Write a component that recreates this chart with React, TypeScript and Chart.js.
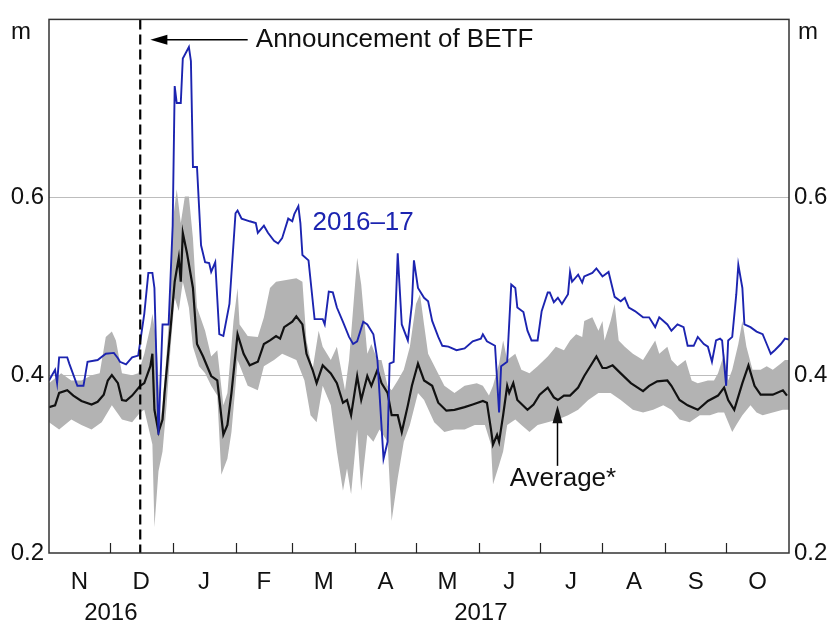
import React, { useEffect, useRef } from "react";
import { Chart, registerables } from "chart.js";

Chart.register(...registerables);

// ---- Data (x = days since 1 Nov 2016, y = millions) ----
const monthLabels = ["N", "D", "J", "F", "M", "A", "M", "J", "J", "A", "S", "O"];
const monthStarts = [0, 30, 61, 92, 120, 151, 181, 212, 242, 273, 304, 334, 365];
const yearLabels = ["2016", "2017"];
const yearSpans = [[0, 61], [61, 365]];
const yTicks = [0.2, 0.4, 0.6, 0.8];
const unitLabel = "m";
const betfDay = 45;

const series2016_17: [number, number][] = [
  [0, 0.394], [3, 0.406], [4, 0.391], [5, 0.42], [9, 0.42], [10, 0.413], [14, 0.388], [17, 0.388],
  [19, 0.415], [24, 0.417], [28, 0.424], [32, 0.425], [34, 0.419], [35, 0.415], [38, 0.412], [41, 0.42],
  [44, 0.422], [47, 0.469], [49, 0.515], [51, 0.515], [52, 0.498], [54, 0.333], [56, 0.457], [59, 0.457],
  [61, 0.568], [62, 0.725], [63, 0.706], [65, 0.706], [66, 0.756], [69, 0.769], [70, 0.753], [71, 0.634],
  [73, 0.634], [75, 0.546], [77, 0.527], [79, 0.526], [80, 0.516], [82, 0.527], [84, 0.446], [86, 0.444],
  [89, 0.48], [92, 0.582], [93, 0.585], [95, 0.576], [99, 0.573], [102, 0.571], [103, 0.56], [106, 0.568],
  [108, 0.56], [111, 0.551], [113, 0.548], [115, 0.554], [118, 0.576], [120, 0.573], [121, 0.581], [123, 0.59],
  [124, 0.571], [125, 0.535], [128, 0.529], [131, 0.463], [135, 0.463], [136, 0.457], [138, 0.494], [140, 0.493],
  [142, 0.476], [145, 0.46], [148, 0.443], [150, 0.435], [152, 0.438], [155, 0.46], [157, 0.457], [160, 0.446],
  [162, 0.417], [163, 0.38], [165, 0.306], [167, 0.325], [168, 0.413], [170, 0.415], [172, 0.537], [174, 0.457],
  [177, 0.439], [179, 0.48], [180, 0.529], [182, 0.498], [185, 0.487], [187, 0.483], [189, 0.461], [192, 0.443],
  [194, 0.433], [197, 0.432], [201, 0.428], [205, 0.43], [209, 0.438], [213, 0.441], [214, 0.446], [216, 0.438],
  [220, 0.433], [222, 0.358], [223, 0.41], [226, 0.415], [228, 0.502], [230, 0.498], [231, 0.476], [234, 0.471],
  [236, 0.45], [238, 0.439], [241, 0.439], [243, 0.472], [246, 0.493], [247, 0.493], [249, 0.482], [251, 0.487],
  [253, 0.48], [256, 0.491], [257, 0.516], [258, 0.505], [261, 0.513], [263, 0.504], [264, 0.511], [268, 0.515],
  [270, 0.52], [273, 0.511], [276, 0.516], [279, 0.488], [282, 0.483], [284, 0.487], [286, 0.476], [289, 0.472],
  [293, 0.465], [296, 0.465], [299, 0.454], [301, 0.465], [305, 0.457], [307, 0.45], [310, 0.457], [313, 0.454],
  [315, 0.433], [318, 0.433], [320, 0.443], [323, 0.435], [325, 0.432], [327, 0.415], [329, 0.439], [331, 0.441],
  [332, 0.439], [334, 0.388], [335, 0.439], [337, 0.443], [339, 0.491], [340, 0.524], [342, 0.498], [343, 0.457],
  [346, 0.454], [349, 0.449], [352, 0.446], [354, 0.435], [356, 0.424], [358, 0.428], [361, 0.435], [363, 0.441],
  [365, 0.44],
];

const averageSeries: [number, number][] = [
  [0, 0.364], [3, 0.366], [5, 0.38], [9, 0.383], [12, 0.377], [16, 0.371], [21, 0.367], [24, 0.37],
  [27, 0.378], [29, 0.394], [31, 0.4], [34, 0.391], [36, 0.372], [38, 0.371], [41, 0.377], [45, 0.388],
  [47, 0.391], [50, 0.41], [51, 0.424], [52, 0.361], [54, 0.336], [56, 0.35], [57, 0.38], [60, 0.454],
  [62, 0.505], [64, 0.532], [65, 0.505], [66, 0.56], [68, 0.538], [71, 0.498], [73, 0.435], [76, 0.421],
  [80, 0.399], [83, 0.394], [86, 0.333], [88, 0.344], [90, 0.38], [93, 0.446], [96, 0.424], [99, 0.411],
  [103, 0.415], [106, 0.435], [109, 0.439], [112, 0.444], [114, 0.441], [116, 0.454], [120, 0.46], [122, 0.466],
  [125, 0.457], [127, 0.424], [130, 0.406], [132, 0.391], [135, 0.411], [139, 0.402], [142, 0.391], [145, 0.369],
  [147, 0.372], [149, 0.355], [152, 0.399], [154, 0.372], [157, 0.399], [159, 0.388], [162, 0.406], [164, 0.391],
  [167, 0.38], [169, 0.355], [172, 0.355], [174, 0.336], [177, 0.366], [179, 0.388], [182, 0.413], [185, 0.394],
  [189, 0.388], [192, 0.369], [196, 0.36], [200, 0.361], [205, 0.364], [209, 0.367], [214, 0.371], [216, 0.369],
  [218, 0.339], [219, 0.322], [221, 0.333], [222, 0.325], [224, 0.355], [226, 0.388], [227, 0.38], [229, 0.391],
  [231, 0.372], [236, 0.361], [239, 0.367], [242, 0.378], [246, 0.386], [249, 0.375], [251, 0.372], [254, 0.377],
  [257, 0.377], [261, 0.386], [264, 0.399], [267, 0.41], [270, 0.421], [273, 0.408], [275, 0.408], [278, 0.411],
  [282, 0.402], [287, 0.391], [293, 0.382], [296, 0.388], [300, 0.393], [305, 0.394], [307, 0.388], [311, 0.372],
  [315, 0.366], [320, 0.361], [325, 0.371], [330, 0.377], [333, 0.386], [335, 0.372], [338, 0.361], [342, 0.391],
  [345, 0.411], [348, 0.388], [351, 0.378], [354, 0.378], [357, 0.378], [362, 0.383], [364, 0.377],
];

const rangeUpper: [number, number][] = [
  [0, 0.391], [6, 0.402], [11, 0.394], [16, 0.394], [21, 0.4], [25, 0.402], [28, 0.443], [31, 0.449],
  [33, 0.439], [36, 0.402], [41, 0.4], [44, 0.402], [47, 0.424], [50, 0.454], [51, 0.469], [53, 0.439],
  [55, 0.35], [56, 0.366], [58, 0.424], [60, 0.491], [61, 0.571], [63, 0.609], [65, 0.571], [67, 0.601],
  [69, 0.601], [71, 0.554], [73, 0.476], [77, 0.45], [80, 0.421], [83, 0.428], [86, 0.366], [88, 0.38],
  [91, 0.461], [93, 0.498], [94, 0.457], [98, 0.444], [103, 0.443], [106, 0.465], [109, 0.498], [112, 0.505],
  [117, 0.507], [122, 0.509], [125, 0.505], [127, 0.439], [130, 0.406], [133, 0.45], [135, 0.432], [139, 0.417],
  [142, 0.432], [146, 0.383], [148, 0.417], [152, 0.532], [154, 0.502], [157, 0.424], [159, 0.435], [162, 0.417],
  [164, 0.417], [167, 0.388], [169, 0.383], [172, 0.394], [175, 0.406], [178, 0.432], [181, 0.48], [183, 0.491],
  [185, 0.457], [187, 0.424], [191, 0.406], [195, 0.388], [200, 0.38], [205, 0.388], [211, 0.391], [214, 0.388],
  [217, 0.377], [219, 0.388], [222, 0.413], [224, 0.439], [226, 0.417], [230, 0.424], [233, 0.406], [237, 0.402],
  [241, 0.41], [246, 0.421], [250, 0.432], [254, 0.428], [257, 0.439], [260, 0.446], [263, 0.443], [264, 0.461],
  [268, 0.465], [271, 0.45], [273, 0.461], [274, 0.439], [277, 0.461], [279, 0.48], [281, 0.439], [284, 0.432],
  [288, 0.424], [293, 0.417], [296, 0.428], [299, 0.439], [301, 0.424], [305, 0.432], [307, 0.417], [310, 0.41],
  [314, 0.417], [317, 0.394], [320, 0.391], [325, 0.394], [328, 0.394], [330, 0.402], [333, 0.424], [335, 0.394],
  [337, 0.406], [340, 0.435], [342, 0.461], [344, 0.432], [347, 0.406], [351, 0.406], [354, 0.41], [357, 0.406],
  [361, 0.413], [363, 0.417], [365, 0.417],
];

const rangeLower: [number, number][] = [
  [0, 0.347], [5, 0.339], [11, 0.35], [16, 0.344], [21, 0.339], [26, 0.347], [31, 0.366], [36, 0.35],
  [41, 0.347], [45, 0.358], [47, 0.361], [51, 0.322], [52, 0.229], [54, 0.292], [56, 0.314], [58, 0.366],
  [60, 0.432], [62, 0.487], [64, 0.472], [66, 0.505], [69, 0.476], [71, 0.432], [74, 0.41], [77, 0.402],
  [80, 0.388], [83, 0.377], [85, 0.288], [88, 0.306], [90, 0.336], [92, 0.388], [93, 0.417], [98, 0.388],
  [103, 0.383], [106, 0.41], [111, 0.417], [115, 0.424], [122, 0.417], [126, 0.394], [129, 0.355], [132, 0.347],
  [135, 0.388], [139, 0.366], [142, 0.314], [145, 0.27], [147, 0.295], [149, 0.266], [152, 0.339], [154, 0.27],
  [157, 0.333], [160, 0.325], [163, 0.339], [167, 0.325], [169, 0.236], [172, 0.284], [175, 0.325], [178, 0.344],
  [182, 0.38], [185, 0.372], [190, 0.347], [195, 0.336], [200, 0.339], [205, 0.339], [210, 0.344], [215, 0.344],
  [218, 0.322], [219, 0.277], [222, 0.299], [224, 0.314], [226, 0.344], [230, 0.35], [233, 0.344], [237, 0.336],
  [241, 0.344], [246, 0.347], [251, 0.35], [256, 0.355], [261, 0.361], [266, 0.372], [271, 0.38], [277, 0.38],
  [282, 0.372], [288, 0.361], [293, 0.358], [298, 0.361], [303, 0.366], [307, 0.361], [311, 0.35], [316, 0.347],
  [321, 0.355], [326, 0.355], [330, 0.358], [333, 0.358], [335, 0.347], [337, 0.336], [339, 0.344], [342, 0.355],
  [346, 0.366], [349, 0.358], [352, 0.355], [357, 0.358], [362, 0.361], [365, 0.361],
];

// Annotation anchors in data units
const betfText = "Announcement of BETF";
const betfArrow = { fromDay: 98, toDay: 50, value: 0.777, textDay: 102 };
const seriesText = { text: "2016–17", day: 130, value: 0.571 };
const avgText = { text: "Average*", day: 253.5, value: 0.283 };
const avgArrow = { day: 250.5, fromValue: 0.298, toValue: 0.366 };

const FONT = "Arial, 'Liberation Sans', Helvetica, sans-serif";
const BLUE = "#1c24b0";
const GREY = "#b3b3b3";
const TEXT = "#111111";

const toXY = (arr: [number, number][]) => arr.map(([x, y]) => ({ x, y }));

const decorPlugin = {
  id: "decor",
  afterDatasetsDraw(chart: any) {
    const { ctx, chartArea: a, scales } = chart;
    const xs = scales.x;
    const ys = scales.y;
    ctx.save();

    // BETF dashed line
    const xd = xs.getPixelForValue(betfDay);
    ctx.strokeStyle = "#000";
    ctx.lineWidth = 2.2;
    ctx.setLineDash([10, 5]);
    ctx.beginPath();
    ctx.moveTo(xd, a.top);
    ctx.lineTo(xd, a.bottom);
    ctx.stroke();
    ctx.setLineDash([]);

    // plot border
    ctx.strokeStyle = "#333";
    ctx.lineWidth = 1.5;
    ctx.strokeRect(a.left, a.top, a.right - a.left, a.bottom - a.top);

    // month ticks (inward)
    ctx.lineWidth = 1.2;
    ctx.strokeStyle = "#222";
    for (let i = 1; i < monthStarts.length - 1; i++) {
      const px = Math.round(xs.getPixelForValue(monthStarts[i])) + 0.5;
      ctx.beginPath();
      ctx.moveTo(px, a.bottom);
      ctx.lineTo(px, a.bottom - 10);
      ctx.stroke();
    }

    // month labels
    ctx.fillStyle = TEXT;
    ctx.font = `24px ${FONT}`;
    ctx.textAlign = "center";
    ctx.textBaseline = "middle";
    monthLabels.forEach((m, i) => {
      const mid = (monthStarts[i] + monthStarts[i + 1]) / 2;
      ctx.fillText(m, xs.getPixelForValue(mid), a.bottom + 29);
    });
    yearLabels.forEach((yl, i) => {
      const mid = (yearSpans[i][0] + yearSpans[i][1]) / 2;
      ctx.fillText(yl, xs.getPixelForValue(mid), a.bottom + 60);
    });

    // unit labels
    ctx.textAlign = "right";
    ctx.fillText(unitLabel, a.left - 18, a.top + 13);
    ctx.textAlign = "left";
    ctx.fillText(unitLabel, a.right + 9, a.top + 13);

    // BETF arrow
    const ay = ys.getPixelForValue(betfArrow.value);
    const ax1 = xs.getPixelForValue(betfArrow.fromDay);
    const ax2 = xs.getPixelForValue(betfArrow.toDay);
    ctx.strokeStyle = "#000";
    ctx.fillStyle = "#000";
    ctx.lineWidth = 1.5;
    ctx.beginPath();
    ctx.moveTo(ax1, ay);
    ctx.lineTo(ax2 + 10, ay);
    ctx.stroke();
    ctx.beginPath();
    ctx.moveTo(ax2, ay);
    ctx.lineTo(ax2 + 17, ay - 5);
    ctx.lineTo(ax2 + 17, ay + 5);
    ctx.closePath();
    ctx.fill();
    ctx.font = `26px ${FONT}`;
    ctx.textAlign = "left";
    ctx.fillStyle = TEXT;
    ctx.fillText(betfText, xs.getPixelForValue(betfArrow.textDay), ay);

    // series label
    ctx.fillStyle = BLUE;
    ctx.fillText(seriesText.text, xs.getPixelForValue(seriesText.day), ys.getPixelForValue(seriesText.value));

    // Average label + arrow
    ctx.fillStyle = TEXT;
    ctx.textAlign = "center";
    ctx.fillText(avgText.text, xs.getPixelForValue(avgText.day), ys.getPixelForValue(avgText.value));
    const vx = Math.round(xs.getPixelForValue(avgArrow.day)) + 0.5;
    const vy1 = ys.getPixelForValue(avgArrow.fromValue);
    const vy2 = ys.getPixelForValue(avgArrow.toValue);
    ctx.beginPath();
    ctx.moveTo(vx, vy1);
    ctx.lineTo(vx, vy2 + 10);
    ctx.stroke();
    ctx.beginPath();
    ctx.moveTo(vx, vy2);
    ctx.lineTo(vx - 5, vy2 + 18);
    ctx.lineTo(vx + 5, vy2 + 18);
    ctx.closePath();
    ctx.fill();

    ctx.restore();
  },
};

export default function App() {
  const ref = useRef<HTMLCanvasElement | null>(null);

  useEffect(() => {
    if (!ref.current) return;
    const tickCb = (v: any) => (Number(v) > 0.79 ? "" : Number(v).toFixed(1));
    const setTicks = (s: any) => {
      s.ticks = yTicks.map((v) => ({ value: v }));
    };
    const chart = new Chart(ref.current, {
      type: "line",
      data: {
        datasets: [
          {
            label: "2016–17",
            data: toXY(series2016_17),
            borderColor: BLUE,
            borderWidth: 1.9,
            pointRadius: 0,
            fill: false,
            tension: 0,
          },
          {
            label: "Average",
            data: toXY(averageSeries),
            borderColor: "#111",
            borderWidth: 2.2,
            pointRadius: 0,
            fill: false,
            tension: 0,
          },
          {
            label: "Range upper",
            data: toXY(rangeUpper),
            borderColor: "rgba(0,0,0,0)",
            borderWidth: 0,
            backgroundColor: GREY,
            pointRadius: 0,
            fill: "+1",
            tension: 0,
          },
          {
            label: "Range lower",
            data: toXY(rangeLower),
            borderColor: "rgba(0,0,0,0)",
            borderWidth: 0,
            pointRadius: 0,
            fill: false,
            tension: 0,
          },
        ],
      },
      options: {
        animation: false,
        responsive: false,
        devicePixelRatio: 1,
        layout: { padding: { top: 9, bottom: 76, left: 0, right: 0 } },
        plugins: {
          legend: { display: false },
          tooltip: { enabled: false },
          title: { display: false },
        },
        scales: {
          x: { type: "linear", min: 0, max: 365, display: false },
          y: {
            type: "linear",
            position: "left",
            min: 0.2,
            max: 0.8,
            afterBuildTicks: setTicks,
            afterFit: (s: any) => {
              s.width = 49;
            },
            ticks: {
              callback: tickCb,
              autoSkip: false,
              padding: 5,
              color: TEXT,
              font: { family: FONT, size: 24 },
            },
            grid: {
              drawTicks: false,
              lineWidth: 1,
              color: (c: any) => {
                const v = c.tick ? c.tick.value : 0;
                return Math.abs(v - 0.4) < 1e-6 || Math.abs(v - 0.6) < 1e-6 ? "#bdbdbd" : "rgba(0,0,0,0)";
              },
            },
            border: { display: false },
          },
          y2: {
            type: "linear",
            position: "right",
            min: 0.2,
            max: 0.8,
            afterBuildTicks: setTicks,
            afterFit: (s: any) => {
              s.width = 44;
            },
            ticks: {
              callback: tickCb,
              autoSkip: false,
              padding: 5,
              color: TEXT,
              font: { family: FONT, size: 24 },
            },
            grid: { display: false, drawTicks: false },
            border: { display: false },
          },
        },
      },
      plugins: [decorPlugin],
    });
    return () => chart.destroy();
  }, []);

  return (
    <div style={{ position: "absolute", left: 0, top: 0, width: 833, height: 629, background: "#fff" }}>
      <canvas ref={ref} width={833} height={629} style={{ display: "block", width: 833, height: 629 }} />
    </div>
  );
}
